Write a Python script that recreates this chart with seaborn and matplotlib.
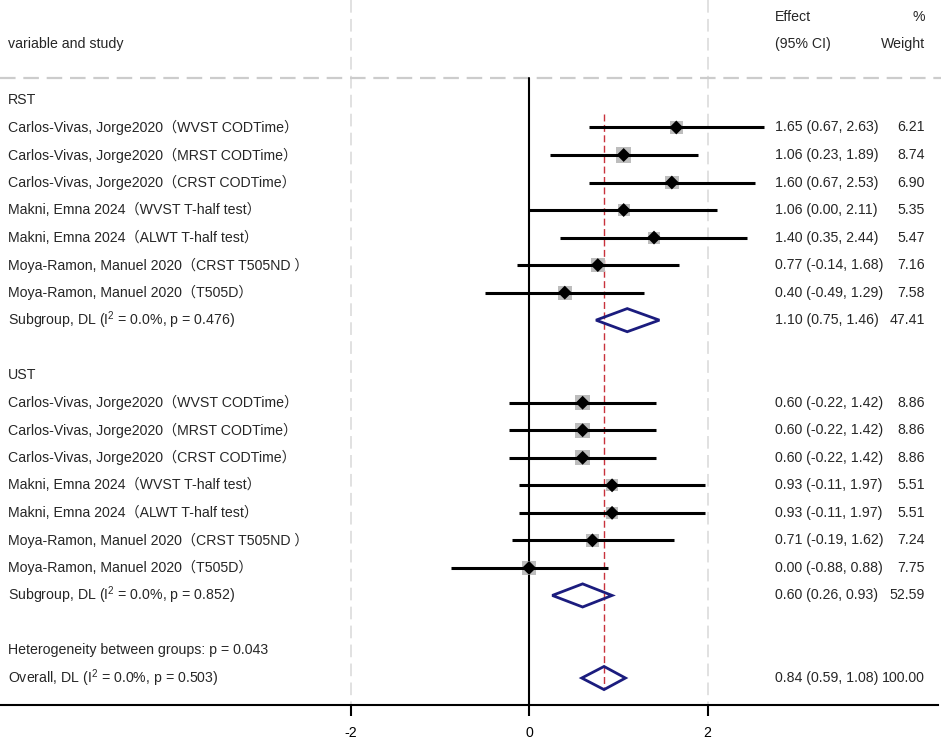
import numpy as np
import pandas as pd
import matplotlib
matplotlib.use("Agg")
import matplotlib.pyplot as plt
from matplotlib.patches import Polygon
import seaborn as sns

# data
rst_labels = ["Carlos-Vivas, Jorge2020（WVST CODTime）",
              "Carlos-Vivas, Jorge2020（MRST CODTime）",
              "Carlos-Vivas, Jorge2020（CRST CODTime）",
              "Makni, Emna 2024（WVST T-half test）",
              "Makni, Emna 2024（ALWT T-half test）",
              "Moya-Ramon, Manuel 2020（CRST T505ND ）",
              "Moya-Ramon, Manuel 2020（T505D）"]
rst_es = [1.65, 1.06, 1.60, 1.06, 1.40, 0.77, 0.40]
rst_lo = [0.67, 0.23, 0.67, 0.00, 0.35, -0.14, -0.49]
rst_hi = [2.63, 1.89, 2.53, 2.11, 2.44, 1.68, 1.29]
rst_wt = [6.21, 8.74, 6.90, 5.35, 5.47, 7.16, 7.58]

ust_labels = list(rst_labels)
ust_es = [0.60, 0.60, 0.60, 0.93, 0.93, 0.71, 0.00]
ust_lo = [-0.22, -0.22, -0.22, -0.11, -0.11, -0.19, -0.88]
ust_hi = [1.42, 1.42, 1.42, 1.97, 1.97, 1.62, 0.88]
ust_wt = [8.86, 8.86, 8.86, 5.51, 5.51, 7.24, 7.75]

sub_labels = [r"Subgroup, DL (I$^{2}$ = 0.0%, p = 0.476)",
              r"Subgroup, DL (I$^{2}$ = 0.0%, p = 0.852)"]
sub_es = [1.10, 0.60]
sub_lo = [0.75, 0.26]
sub_hi = [1.46, 0.93]
sub_wt = [47.41, 52.59]

overall_label = r"Overall, DL (I$^{2}$ = 0.0%, p = 0.503)"
overall_es, overall_lo, overall_hi, overall_wt = 0.84, 0.59, 1.08, 100.00
het_label = "Heterogeneity between groups: p = 0.043"

sns.set_style("white")
plt.rcParams["font.family"] = ["Liberation Sans", "Noto Sans CJK SC", "DejaVu Sans"]
plt.rcParams["mathtext.fontset"] = "custom"
plt.rcParams["mathtext.rm"] = "Liberation Sans"
plt.rcParams["mathtext.it"] = "Liberation Sans:italic"
plt.rcParams["mathtext.default"] = "rm"

# study table
rows_rst = list(range(1, 8))
rows_ust = list(range(11, 18))
df = pd.DataFrame({
    "row": rows_rst + rows_ust,
    "label": rst_labels + ust_labels,
    "es": rst_es + ust_es,
    "lo": rst_lo + ust_lo,
    "hi": rst_hi + ust_hi,
    "wt": rst_wt + ust_wt,
})
sub_rows = [8, 18]
overall_row = 21

fig = plt.figure(figsize=(9.41, 7.39), dpi=100)
ax = fig.add_axes([0, 34 / 739, 938 / 941, 705 / 739])
ax.set_xlim(-5.93, 4.583)
ax.set_ylim(21.98, -3.63)

fs = 10.2
navy = "#1b1c7e"

# grid lines at -2, 2 and header separator
for gx in [-2, 2]:
    ax.plot([gx, gx], [-3.63, 21.98], color="#dedede", lw=1.3,
            dashes=(7, 3.5), zorder=1)
ax.plot([-5.93, 4.7], [-0.8, -0.8], color="#cccccc", lw=1.6,
        dashes=(7, 3.5), zorder=1, clip_on=False)
ax.plot([0, 0], [-0.8, 21.98], color="black", lw=1.5, zorder=2)
ax.plot([overall_es, overall_es], [0.5, 21.4], color="#c8323c", lw=1.0,
        dashes=(5, 2.5), zorder=2)

# weight boxes, CI lines, point estimates
sns.scatterplot(data=df, x="es", y="row", size="wt",
                sizes={w: 13.5 * w for w in df["wt"].unique()},
                marker="s", color="#bdbdbd", edgecolor="none", legend=False,
                ax=ax, zorder=3)
ax.hlines(df["row"], df["lo"], df["hi"], color="black", lw=2.2, zorder=4)
sns.scatterplot(data=df, x="es", y="row", marker="D", color="black",
                s=50, edgecolor="none", legend=False, ax=ax, zorder=5)

# pooled diamonds
for r, e, l, h in zip(sub_rows + [overall_row], sub_es + [overall_es],
                      sub_lo + [overall_lo], sub_hi + [overall_hi]):
    d = Polygon([[l, r], [e, r - 0.42], [h, r], [e, r + 0.42]], closed=True,
                facecolor="none", edgecolor=navy, lw=2.0, zorder=5)
    ax.add_patch(d)

# text columns
xl, xe, xw = -5.84, 2.756, 4.437
ax.text(xl, -2.03, "variable and study", fontsize=fs, va="center")
ax.text(xe, -3.02, "Effect", fontsize=fs, va="center")
ax.text(xe, -2.03, "(95% CI)", fontsize=fs, va="center")
ax.text(xw, -3.02, "%", fontsize=fs, va="center", ha="right")
ax.text(xw, -2.03, "Weight", fontsize=fs, va="center", ha="right")
ax.text(xl, 0, "RST", fontsize=fs, va="center")
ax.text(xl, 10, "UST", fontsize=fs, va="center")

for _, r in df.iterrows():
    ax.text(xl, r["row"], r["label"], fontsize=fs, va="center")
    ax.text(xe, r["row"], f"{r['es']:.2f} ({r['lo']:.2f}, {r['hi']:.2f})",
            fontsize=fs, va="center")
    ax.text(xw, r["row"], f"{r['wt']:.2f}", fontsize=fs, va="center", ha="right")

for r, lab, e, l, h, w in zip(sub_rows, sub_labels, sub_es, sub_lo, sub_hi, sub_wt):
    ax.text(xl, r, lab, fontsize=fs, va="center")
    ax.text(xe, r, f"{e:.2f} ({l:.2f}, {h:.2f})", fontsize=fs, va="center")
    ax.text(xw, r, f"{w:.2f}", fontsize=fs, va="center", ha="right")

ax.text(xl, 20, het_label, fontsize=fs, va="center")
ax.text(xl, overall_row, overall_label, fontsize=fs, va="center")
ax.text(xe, overall_row, f"{overall_es:.2f} ({overall_lo:.2f}, {overall_hi:.2f})",
        fontsize=fs, va="center")
ax.text(xw, overall_row, f"{overall_wt:.2f}", fontsize=fs, va="center", ha="right")

# axis styling
for side in ["top", "right", "left"]:
    ax.spines[side].set_visible(False)
ax.spines["bottom"].set_color("black")
ax.spines["bottom"].set_linewidth(1.5)
ax.set_xticks([-2, 0, 2])
ax.set_xticklabels(["-2", "0", "2"])
ax.tick_params(axis="x", direction="out", length=8, width=1.5, pad=7,
               labelsize=fs, bottom=True, colors="black")
ax.set_yticks([])
ax.set_xlabel("")
ax.set_ylabel("")

fig.savefig("out.png", dpi=100)
